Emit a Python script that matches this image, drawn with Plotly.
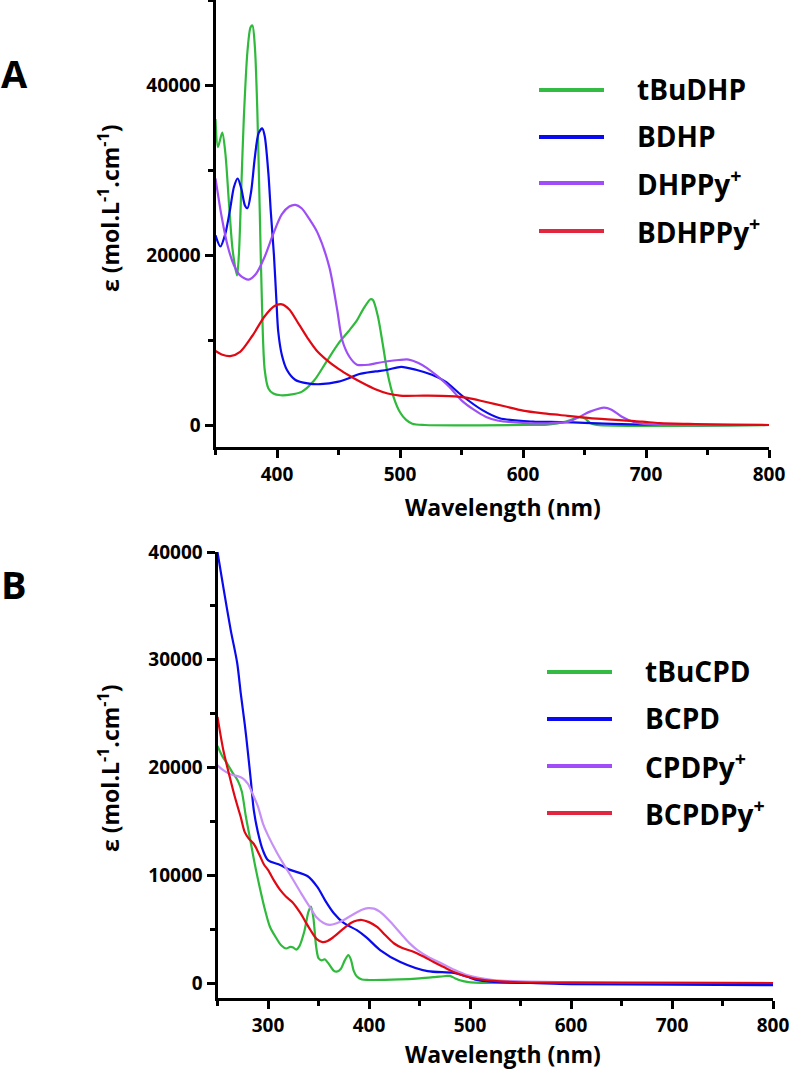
import plotly.graph_objects as go

# ---------------- Panel A data (wavelength nm, epsilon) ----------------
a_tbudhp_wl = [350, 352, 355.5, 358, 361, 364, 367.5, 369, 371, 373, 376, 378.5, 380, 382, 384, 386, 388, 390, 393, 397,
               403, 412, 420, 430, 440, 450, 458, 465, 470, 476, 478, 482, 486, 490, 495, 500, 505, 510, 520, 600,
               620, 635, 645, 650, 655, 660, 800]
a_tbudhp_eps = [36000, 32700, 34400, 32000, 26000, 20500, 17600, 20000, 28000, 36000, 44000, 46800, 47000, 44500, 37000,
                25000, 13000, 6500, 4300, 3700, 3500, 3600, 3900, 5200, 7400, 9600, 11000, 12300, 13600, 14800, 14700,
                12800, 9500, 6000, 3200, 1500, 600, 150, 0, 0, 50, 400, 900, 800, 200, 0, 0]

a_bdhp_wl = [350, 354, 358, 362, 365, 368, 371, 374, 376, 379, 382, 385, 388, 390, 393, 395, 397.5, 399.5, 401, 404,
             408, 415, 425, 435, 450, 460, 467, 480, 490, 501, 513, 526, 537, 550, 567, 581, 608, 630, 650, 680, 720, 800]
a_bdhp_eps = [22300, 21000, 22500, 25500, 28000, 29000, 27800, 25800, 25500, 27500, 31500, 34300, 34900, 34000, 29600,
              25000, 20000, 14700, 11000, 8200, 6500, 5300, 4900, 4800, 5100, 5600, 6000, 6300, 6500, 6850, 6500, 5900,
              5100, 3500, 1750, 800, 400, 350, 250, 100, 0, 0]

a_dhppy_wl = [350, 355, 360, 365, 370, 377, 383, 390, 397, 404, 410, 415, 420, 426, 433, 442.5, 449, 453, 459, 465,
              475, 480, 490, 499, 507, 515, 522, 530, 540, 550, 560, 570, 580, 600, 620, 637, 645, 655, 666, 672, 680,
              690, 700, 720, 800]
a_dhppy_eps = [29000, 24500, 21000, 18800, 17600, 17100, 17800, 19800, 22500, 24800, 25700, 25900, 25500, 24300, 22600,
               18600, 13500, 10000, 8000, 7100, 7100, 7250, 7500, 7650, 7700, 7300, 6700, 5800, 4500, 2900, 1800, 950,
               500, 250, 200, 400, 900, 1600, 2050, 1800, 1000, 350, 100, 0, 0]

a_bdhppy_wl = [350, 355, 362, 370, 380, 390, 398, 404, 410, 418, 425, 432, 440, 450, 460, 470, 480, 490, 500, 520,
               540, 555, 570, 585, 600, 615, 630, 660, 697, 711, 740, 770, 800]
a_bdhppy_eps = [8700, 8300, 8100, 8600, 10500, 12800, 14000, 14200, 13600, 11800, 10200, 8800, 7700, 6600, 5700, 4900,
                4200, 3700, 3450, 3450, 3400, 3200, 2700, 2200, 1700, 1400, 1180, 750, 390, 230, 120, 40, 0]

# ---------------- Panel B data ----------------
b_tbucpd_wl = [250, 255, 260, 265, 270, 274, 278, 282, 287, 292, 297, 302, 308, 313, 318, 322, 325, 328, 331, 336, 340,
               342.5, 345, 347.5, 350, 353, 356, 360, 365, 368, 372, 376, 379.5, 382, 385, 388, 393, 400, 430, 450, 465,
               476, 480, 485, 490, 497, 505, 520, 800]
b_tbucpd_eps = [22000, 21000, 20300, 19500, 18800, 17800, 15500, 13500, 11000, 8800, 6800, 5200, 4200, 3500, 3200, 3350,
                3300, 3100, 3400, 4800, 6600, 7100, 6000, 3500, 2300, 2100, 2200, 1800, 1150, 1050, 1300, 2100, 2600,
                2200, 1100, 600, 320, 280, 330, 430, 550, 650, 660, 450, 250, 100, 30, 0, 0]

b_bcpd_wl = [250, 256, 263, 269.5, 273, 277, 280, 283, 286, 290, 295, 300, 312, 322, 339, 349, 357, 365, 375, 388, 398,
             411, 431, 458, 484, 500, 507, 520, 540, 560, 600, 700, 800]
b_bcpd_eps = [40000, 36600, 32800, 29700, 26900, 24000, 21500, 18800, 16000, 14000, 12300, 11400, 10950, 10500, 9930,
              8900, 7600, 6500, 5570, 4900, 4180, 3060, 1950, 1100, 930, 500, 280, 120, 30, 0, -100, -150, -200]

b_cpdpy_wl = [250, 255, 260, 265, 270, 275, 280, 285, 290, 295, 300, 309, 317, 325, 333, 342, 348, 355, 361, 368, 375,
              385, 393, 399, 405, 411, 420, 431, 440, 448, 460, 471, 485, 497, 510, 523, 550, 600, 700, 800]
b_cpdpy_eps = [20200, 19800, 19500, 19300, 19200, 19000, 18500, 17500, 16400, 14800, 13700, 12070, 10800, 9560, 8300,
               6960, 6100, 5570, 5400, 5550, 5850, 6400, 6800, 6950, 6900, 6600, 5800, 4640, 3700, 3060, 2350, 1860,
               1200, 740, 450, 280, 150, 80, 30, 0]

b_bcpdpy_wl = [250, 256, 263, 268, 273, 277, 281, 286, 291, 296, 300, 306, 312, 318, 324, 332, 337, 342, 348, 354,
               359, 365, 373, 382, 388, 393, 400, 408, 416, 424.5, 433, 444, 454, 464, 474, 484, 495, 507, 530, 550,
               600, 800]
b_bcpdpy_eps = [24700, 21500, 18800, 17000, 15400, 14000, 13400, 12900, 12000, 11000, 10500, 9500, 8640, 8000, 7520,
                6500, 5700, 4920, 4100, 3800, 3900, 4270, 4900, 5570, 5800, 5850, 5650, 5200, 4450, 3690, 3250, 2900,
                2450, 1950, 1480, 1020, 650, 370, 150, 70, 30, 0]

# ---------------- labels / styles ----------------
names_a = ["tBuDHP", "BDHP", "DHPPy<sup>+</sup>", "BDHPPy<sup>+</sup>"]
names_b = ["tBuCPD", "BCPD", "CPDPy<sup>+</sup>", "BCPDPy<sup>+</sup>"]
colors_a = ["#2fba3c", "#0a0aee", "#9d4ff5", "#e00812"]
colors_b = ["#2fba3c", "#0a0aee", "#c690f6", "#e00812"]
legend_colors = ["#33bb44", "#0a0af0", "#a04cf8", "#e3263f"]

W, H = 791, 1070
FONT = "Open Sans"

fig = go.Figure()

series_a = [(a_tbudhp_wl, a_tbudhp_eps), (a_bdhp_wl, a_bdhp_eps), (a_dhppy_wl, a_dhppy_eps), (a_bdhppy_wl, a_bdhppy_eps)]
series_b = [(b_tbucpd_wl, b_tbucpd_eps), (b_bcpd_wl, b_bcpd_eps), (b_cpdpy_wl, b_cpdpy_eps), (b_bcpdpy_wl, b_bcpdpy_eps)]

for (wl, eps), nm, col in zip(series_a, names_a, colors_a):
    fig.add_trace(go.Scatter(x=wl, y=eps, name=nm, mode="lines", xaxis="x", yaxis="y",
                             line=dict(color=col, width=2.2, shape="spline", smoothing=0.8), showlegend=False))
for (wl, eps), nm, col in zip(series_b, names_b, colors_b):
    fig.add_trace(go.Scatter(x=wl, y=eps, name=nm, mode="lines", xaxis="x2", yaxis="y2",
                             line=dict(color=col, width=2.2, shape="spline", smoothing=0.8), showlegend=False))


def px_x(p):
    return p / W


def px_y(p):
    return 1 - p / H


tickfont = dict(family=FONT, size=19, color="black", weight="bold")
axis_common = dict(showline=True, linewidth=3, linecolor="black", ticks="outside", ticklen=8, tickwidth=3,
                   tickcolor="black", showgrid=False, zeroline=False, tickfont=tickfont, tickformat="d",
                   minor=dict(ticks="outside", ticklen=5, tickwidth=3, tickcolor="black", showgrid=False))

fig.update_layout(
    width=W, height=H, margin=dict(l=0, r=0, t=0, b=0, autoexpand=False),
    paper_bgcolor="white", plot_bgcolor="white", showlegend=False,
    xaxis=dict(domain=[px_x(215.5), px_x(769)], range=[350, 800], anchor="y", tick0=400, dtick=100,
               **{**axis_common, "minor": dict(axis_common["minor"], dtick=50, tick0=350)}),
    yaxis=dict(domain=[px_y(447), 1], range=[-2588, 50000], anchor="x", tick0=0, dtick=20000,
               **{**axis_common, "minor": dict(axis_common["minor"], dtick=10000, tick0=0)}),
    xaxis2=dict(domain=[px_x(217.5), px_x(773)], range=[250, 800], anchor="y2", tick0=300, dtick=100,
                **{**axis_common, "minor": dict(axis_common["minor"], dtick=50, tick0=250)}),
    yaxis2=dict(domain=[px_y(998), px_y(552)], range=[-1392, 40000], anchor="x2", tick0=0, dtick=10000,
                **{**axis_common, "minor": dict(axis_common["minor"], dtick=5000, tick0=0)}),
)

# panel letters, axis titles
ann = []
ann.append(dict(text="A", x=px_x(-1), y=px_y(73), xanchor="left", yanchor="middle",
                font=dict(family=FONT, size=38, color="black", weight="bold")))
ann.append(dict(text="B", x=px_x(-1), y=px_y(584), xanchor="left", yanchor="middle",
                font=dict(family=FONT, size=38, color="black", weight="bold")))
for yc in (507, 1054):
    ann.append(dict(text="Wavelength (nm)", x=px_x(503), y=px_y(yc), xanchor="center", yanchor="middle",
                    font=dict(family=FONT, size=23, color="black", weight="bold")))
for yc in (208, 768):
    ann.append(dict(text="ε (mol.L<sup>-1</sup>.cm<sup>-1</sup>)", x=px_x(109), y=px_y(yc), textangle=-90,
                    xanchor="center", yanchor="middle",
                    font=dict(family=FONT, size=23, color="black", weight="bold")))

# legends (drawn as keys)
shapes = []
legend_specs = [(names_a, [90, 137, 183, 231], 539, 604, 635), (names_b, [672, 719, 766, 813], 547, 612, 643)]
for names, rows, x0, x1, xt in legend_specs:
    for nm, yr, lc in zip(names, rows, legend_colors):
        shapes.append(dict(type="line", xref="paper", yref="paper", x0=px_x(x0), x1=px_x(x1), y0=px_y(yr),
                           y1=px_y(yr), line=dict(color=lc, width=4)))
        ann.append(dict(text=nm, x=px_x(xt), y=px_y(yr - 1), xanchor="left", yanchor="middle",
                        font=dict(family=FONT, size=28, color="black", weight="bold")))

for a in ann:
    a.update(xref="paper", yref="paper", showarrow=False)
fig.update_layout(annotations=ann, shapes=shapes)

fig.write_html("out.html", config={"displayModeBar": False},
               post_script="document.body.style.margin='0';document.body.style.padding='0';"
                           "document.documentElement.style.overflow='hidden';")
